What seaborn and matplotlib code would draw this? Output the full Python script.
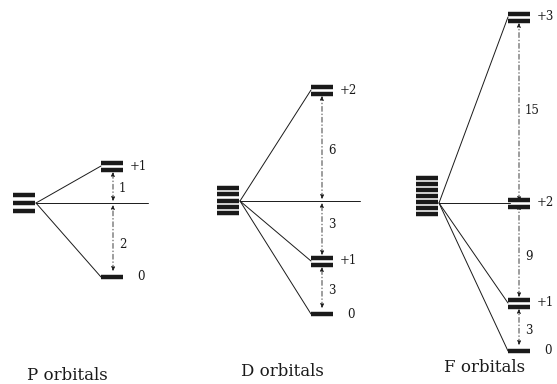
import numpy as np
import pandas as pd
import matplotlib
matplotlib.use("Agg")
import matplotlib.pyplot as plt
import seaborn as sns

# ---------------------------------------------------------------
# data (pixel space, y grows downward)
# ---------------------------------------------------------------
titles = ["P orbitals", "D orbitals", "F orbitals"]
title_x = [67, 282, 485]
title_y = [375, 372, 367]

# degenerate stack on the left of each diagram
stack_left = [13, 217, 416]
stack_count = [3, 5, 7]
stack_top = [195, 188, 178]
stack_step = [8, 6.3, 6]
fan_origin_y = [203, 201, 203]
centre_line_end = [148, 360, 510]

# split levels
level_left = [101, 311, 508]
level_y = [[166, 277], [90, 261, 314], [17, 203, 303, 351]]
level_count = [[2, 1], [2, 2, 1], [2, 2, 2, 1]]
level_names = [["+1", "0"], ["+2", "+1", "0"], ["+3", "+2", "+1", "0"]]

# gaps between neighbouring levels (with the centre line)
gap_x = [113, 322, 519]
gap_bounds = [[(166, 203), (203, 277)],
              [(90, 201), (201, 261), (261, 314)],
              [(17, 203), (203, 303), (303, 351)]]
gap_names = [["1", "2"], ["6", "3", "3"], ["15", "9", "3"]]
gap_label_y = [[189, 244], [150, 225, 290], [110, 256, 330]]

BAR_W = 22
INK = "#1a1a1a"

sns.set_style("white")
plt.rcParams["font.family"] = ["DejaVu Serif"]

fig = plt.figure(figsize=(5.57, 3.84), dpi=100)
ax = fig.add_axes([0, 0, 1, 1])

# fan lines as seaborn line segments
rows = []
seg = 0
for d in range(3):
    ox = stack_left[d] + BAR_W + 1
    oy = fan_origin_y[d]
    rows.append((ox, oy, seg)); rows.append((centre_line_end[d], oy, seg)); seg += 1
    for y in level_y[d]:
        if abs(y - oy) < 3:
            continue
        rows.append((ox, oy, seg)); rows.append((level_left[d], y, seg)); seg += 1
fan = pd.DataFrame(rows, columns=["x", "y", "seg"])
sns.lineplot(data=fan, x="x", y="y", units="seg", estimator=None, sort=False,
             color=INK, lw=0.7, ax=ax, legend=False)
ax.set_xlim(0, 557)
ax.set_ylim(384, 0)
ax.axis("off")

# degenerate stacks
for d in range(3):
    ys = stack_top[d] + np.arange(stack_count[d]) * stack_step[d]
    ax.hlines(ys, stack_left[d], stack_left[d] + BAR_W, color=INK, lw=3.2)

# split levels and their labels
for d in range(3):
    for y, n, name in zip(level_y[d], level_count[d], level_names[d]):
        ys = [y - 3.5, y + 3.5] if n == 2 else [y]
        ax.hlines(ys, level_left[d], level_left[d] + BAR_W, color=INK, lw=3.2)
        off = 14 if name == "0" else 7
        ax.text(level_left[d] + BAR_W + off, y, name, fontsize=8.5,
                ha="left", va="center", color=INK)

# gap arrows
for d in range(3):
    for (y0, y1), name, ly in zip(gap_bounds[d], gap_names[d], gap_label_y[d]):
        a = y0 + 2 if y0 in fan_origin_y else y0 + 6
        b = y1 - 2 if y1 in fan_origin_y else y1 - 6
        ax.annotate("", xy=(gap_x[d], a), xytext=(gap_x[d], b),
                    arrowprops=dict(arrowstyle="<|-|>", color=INK, lw=0.6,
                                    ls=(0, (6, 3, 1, 3)),
                                    mutation_scale=6, shrinkA=0, shrinkB=0))
        ax.text(gap_x[d] + 6, ly, name, fontsize=8.5, ha="left", va="center",
                color=INK)

for t, x, y in zip(titles, title_x, title_y):
    ax.text(x, y, t, fontsize=12, ha="center", va="center", color=INK)

fig.savefig("out.png", dpi=100, facecolor="white")
